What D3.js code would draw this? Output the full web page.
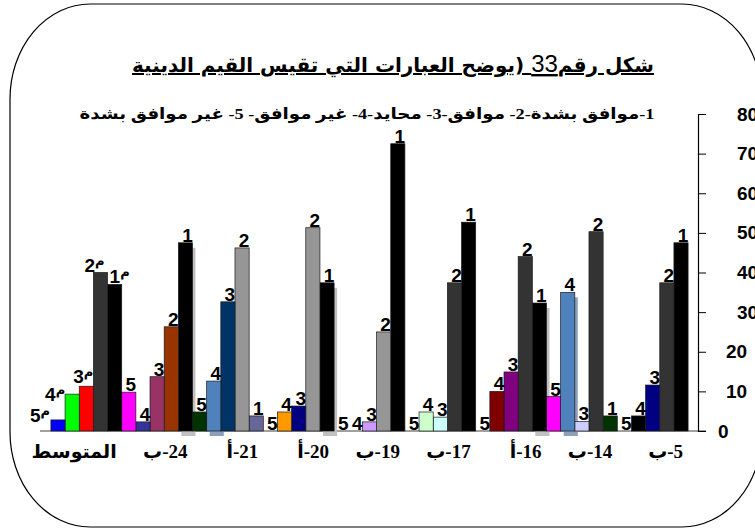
<!DOCTYPE html>
<html>
<head>
<meta charset="utf-8">
<script src="https://cdn.jsdelivr.net/npm/d3@7"></script>
<style>
  body { margin: 0; background: #fff; }
  svg { display: block; }
</style>
</head>
<body>
<svg id="chart" width="755" height="529"></svg>
<script>
// categories as they appear, right to left
const categories = ['5-ب', '14-ب', '16-أ', '17-ب', '19-ب', '20-أ', '21-أ', '24-ب', 'المتوسط'];
const ranks = ['1', '2', '3', '4', '5'];

// percentage per answer, same order as categories
const rank1 = [47.5, 3.8, 32.3, 52.7, 72.5, 37.4, 3.8, 47.5, 37.0];
const rank2 = [37.4, 50.3, 44.0, 37.4, 25.0, 51.3, 46.2, 26.3, 40.0];
const rank3 = [11.6, 2.4, 14.9, 3.5, 2.3, 6.3, 32.6, 13.7, 11.3];
const rank4 = [3.8, 35.0, 10.0, 4.8, 0, 4.8, 12.6, 2.3, 9.3];
const rank5 = [0, 8.7, 0, 0, 0, 0, 4.8, 9.8, 2.8];
const series = [rank1, rank2, rank3, rank4, rank5];

const yTicks = [0, 10, 20, 30, 40, 50, 60, 70, 80];

const titleText = 'شكل رقم';
const titleNum = '33';
const titleRest = ' (يوضح العبارات التي تقيس القيم الدينية';
const legendText = '1-موافق بشدة-2- موافق-3- محايد-4- غير موافق- 5- غير موافق بشدة';
const meanMark = 'م';

// bar colours, rank 1..5, per category (the sheet had hand picked fills)
const colors = {
  '5-ب': ['#000000', '#333333', '#000080', '#000000', '#000000'],
  '14-ب': ['#003300', '#333333', '#ccccff', '#4f81bd', '#ff00ff'],
  '16-أ': ['#000000', '#333333', '#800080', '#800000', '#000000'],
  '17-ب': ['#000000', '#333333', '#ccffff', '#ccffcc', '#000000'],
  '19-ب': ['#000000', '#969696', '#cc99ff', '#000000', '#000000'],
  '20-أ': ['#000000', '#969696', '#000080', '#ff9900', '#000000'],
  '21-أ': ['#666699', '#969696', '#003366', '#4f81bd', '#003300'],
  '24-ب': ['#000000', '#993300', '#993366', '#333399', '#ff00ff'],
  'المتوسط': ['#000000', '#333333', '#ff0000', '#00ff00', '#0000ff']
};
// bars that carry a drop shadow
const shadows = [
  ['24-ب', 0, '#c0c0c0'],
  ['20-أ', 0, '#c0c0c0'],
  ['21-أ', 3, '#8ea0b8'],
  ['16-أ', 0, '#c0c0c0'],
  ['14-ب', 3, '#8ea0b8']
];
// hand nudged labels in the mean group [dx, dy]
const meanNudge = [[3, 0], [-8, 0], [-5, -2], [-19, 8], [-20, 3]];

const svg = d3.select('#chart');

svg.append('rect')
  .attr('x', 10).attr('y', 4)
  .attr('width', 752).attr('height', 523)
  .attr('rx', 80).attr('ry', 95)
  .attr('fill', 'none')
  .attr('stroke', '#000')
  .attr('stroke-width', 1.2);

const yScale = d3.scaleLinear()
  .domain([0, 80])
  .range([431, 114]);

const xScale = d3.scaleBand()
  .domain(categories.slice().reverse())
  .range([41, 698])
  .paddingInner(0)
  .paddingOuter(0.14);

const inner = d3.scaleBand()
  .domain(ranks.slice().reverse())
  .range([0, xScale.bandwidth()])
  .padding(0);

// baseline
svg.append('line')
  .attr('x1', 40).attr('x2', 706)
  .attr('y1', yScale(0)).attr('y2', yScale(0))
  .attr('stroke', '#808080')
  .attr('stroke-width', 1.5);

const cells = [];
categories.forEach((c, i) => {
  ranks.forEach((r, j) => {
    cells.push({ cat: c, rank: r, j: j, value: series[j][i] });
  });
});

// shadows first
svg.append('g')
  .selectAll('rect')
  .data(shadows.map((s) => ({ cat: s[0], j: s[1], color: s[2], value: series[s[1]][categories.indexOf(s[0])] })))
  .join('rect')
  .attr('x', (d) => xScale(d.cat) + inner(ranks[d.j]) + 3)
  .attr('y', (d) => yScale(d.value) + 5)
  .attr('width', inner.bandwidth())
  .attr('height', (d) => yScale(0) - yScale(d.value))
  .attr('fill', (d) => d.color);

svg.append('g')
  .selectAll('rect')
  .data(cells.filter((d) => d.value > 0))
  .join('rect')
  .attr('x', (d) => xScale(d.cat) + inner(d.rank))
  .attr('y', (d) => yScale(d.value))
  .attr('width', inner.bandwidth())
  .attr('height', (d) => yScale(0) - yScale(d.value))
  .attr('fill', (d) => colors[d.cat][d.j])
  .attr('stroke', '#1a1a1a')
  .attr('stroke-width', 0.7);

// value labels (the answer number)
const labels = svg.append('g')
  .selectAll('text')
  .data(cells)
  .join('text')
  .attr('x', (d) => {
    let x = xScale(d.cat) + inner(d.rank) + inner.bandwidth() / 2 + 2;
    if (d.cat === 'المتوسط') x += meanNudge[d.j][0];
    return x;
  })
  .attr('y', (d) => {
    let y = yScale(d.value) - 1;
    if (d.cat === 'المتوسط') y += meanNudge[d.j][1];
    return y;
  })
  .attr('text-anchor', 'middle')
  .attr('font-family', 'Liberation Sans, Arial, sans-serif')
  .attr('font-weight', 'bold')
  .attr('font-size', 19)
  .attr('fill', '#000')
  .text((d) => d.rank);

labels.filter((d) => d.cat === 'المتوسط')
  .append('tspan')
  .attr('dy', -7)
  .attr('font-size', 13)
  .attr('font-family', 'DejaVu Sans, sans-serif')
  .text(meanMark);

// y axis on the right
const yAxis = svg.append('g')
  .attr('transform', 'translate(698,0)')
  .call(d3.axisRight(yScale).tickValues(yTicks).tickSize(8).tickPadding(31));

yAxis.select('.domain').attr('stroke', '#000').attr('stroke-width', 1.2);
yAxis.selectAll('.tick line').attr('stroke', '#000');
yAxis.selectAll('.tick text')
  .attr('x', (d) => d === 0 ? 20 : (d <= 20 ? 28 : 39))
  .attr('font-family', 'Liberation Sans, Arial, sans-serif')
  .attr('font-weight', 'bold')
  .attr('font-size', 19)
  .attr('fill', '#000');

// category labels, right edge a little inside the group
svg.append('g')
  .selectAll('text')
  .data(categories)
  .join('text')
  .attr('y', 458)
  .attr('direction', 'rtl')
  .attr('text-anchor', 'middle')
  .attr('font-family', 'Liberation Serif, DejaVu Sans, serif')
  .attr('font-weight', 'bold')
  .attr('font-size', 19)
  .text((d) => d)
  .attr('x', function (d) {
    const w = this.getComputedTextLength();
    return xScale(d) + xScale.bandwidth() - 5 - w / 2;
  });

// title
const title = svg.append('text')
  .attr('x', 393)
  .attr('y', 72)
  .attr('direction', 'rtl')
  .attr('text-anchor', 'middle')
  .attr('font-family', 'DejaVu Sans, sans-serif')
  .attr('font-weight', 'bold')
  .attr('font-size', 20)
  .attr('text-decoration', 'underline')
  .attr('textLength', 522)
  .attr('lengthAdjust', 'spacingAndGlyphs');
title.append('tspan').text(titleText);
title.append('tspan')
  .attr('font-family', 'Liberation Sans, Arial, sans-serif')
  .attr('font-weight', 'normal')
  .attr('font-size', 24)
  .text(titleNum);
title.append('tspan').text(titleRest);

// legend line
svg.append('text')
  .attr('x', 367)
  .attr('y', 119)
  .attr('direction', 'rtl')
  .attr('text-anchor', 'middle')
  .attr('font-family', 'Liberation Serif, DejaVu Sans, serif')
  .attr('font-weight', 'bold')
  .attr('font-size', 15.5)
  .attr('textLength', 575)
  .attr('lengthAdjust', 'spacingAndGlyphs')
  .text(legendText);
</script>
</body>
</html>
